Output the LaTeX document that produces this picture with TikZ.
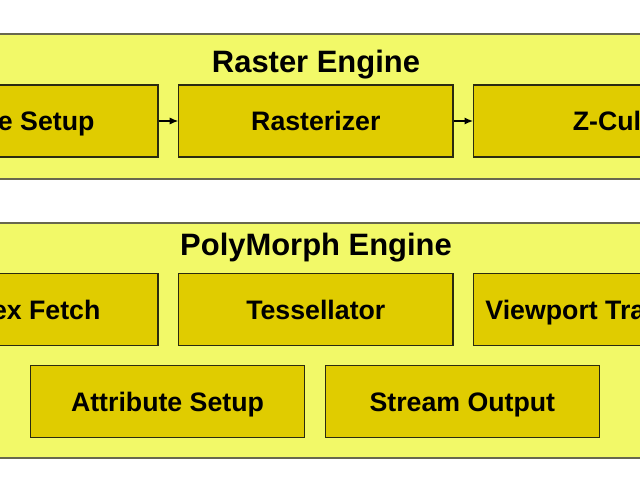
\documentclass[tikz,border=0pt]{standalone}
\usepackage{fontspec}
\setmainfont{Liberation Sans}
\usepackage{xcolor}
\usepackage{tikz}
\usetikzlibrary{arrows.meta, positioning}

\definecolor{panelfill}{HTML}{F2F968}
\definecolor{panelline}{HTML}{68684E}
\definecolor{unitfill}{HTML}{E0CC00}
\definecolor{unitline}{HTML}{2A2A10}

\tikzset{
  unit/.style={draw=unitline, fill=unitfill, line width=0.9pt,
               minimum width=6.85cm, minimum height=1.8cm,
               text height=14pt, text depth=0pt,
               font=\fontsize{19}{22}\selectfont\bfseries},
  panel/.style={draw=panelline, fill=panelfill, line width=1.4pt},
  title/.style={anchor=base, font=\fontsize{22}{26}\selectfont\bfseries},
  link/.style={-{Latex[length=6pt,width=5pt]}, line width=0.8pt}
}

\begin{document}
\begin{tikzpicture}[x=0.025cm, y=-0.025cm]
\useasboundingbox (0,0) rectangle (640,480);
\clip (0,0) rectangle (640,480);
\fill[white] (0,0) rectangle (640,480);

% raster engine
\draw[panel] (-20,34) rectangle (660,179);
\node[title] (raster) at (316,72) {Raster Engine};
\node[unit] (edge) at (21,121) {Edge Setup};
\node[unit, right=19.5*0.025cm of edge] (rast) {Rasterizer};
\node[unit, right=19.5*0.025cm of rast] (zcull) {Z-Cull};
\draw[link] (edge) -- (rast);
\draw[link] (rast) -- (zcull);

% polymorph engine
\draw[panel] (-20,223) rectangle (660,458);
\node[title] (poly) at (316,255) {PolyMorph Engine};
\node[unit] (vfetch) at (21,309.5) {Vertex Fetch};
\node[unit, right=19.5*0.025cm of vfetch] (tess) {Tessellator};
\node[unit, right=19.5*0.025cm of tess] (viewport) {Viewport Transform};
\node[unit] (attrib) at (167.5,401.5) {Attribute Setup};
\node[unit, right=19.5*0.025cm of attrib] (stream) {Stream Output};
\end{tikzpicture}
\end{document}
